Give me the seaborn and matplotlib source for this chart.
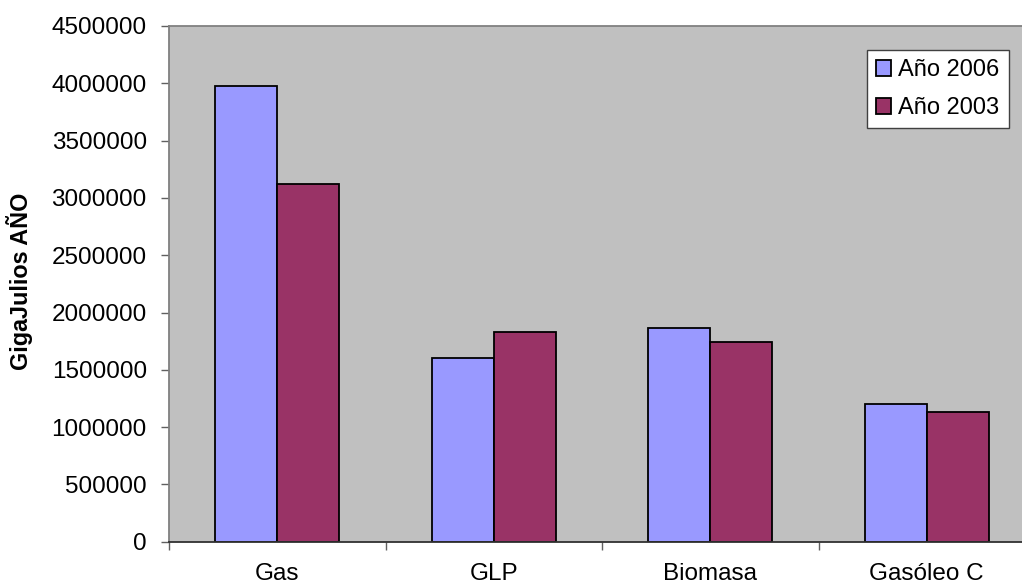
import matplotlib
matplotlib.use("Agg")
import matplotlib.pyplot as plt
import seaborn as sns
import pandas as pd

# Annual energy consumption by fuel type (GigaJulios)
fuels = ["Gas", "GLP", "Biomasa", "Gasóleo C"]
series_names = ["Año 2006", "Año 2003"]
values_2006 = [3975000, 1600000, 1865000, 1200000]
values_2003 = [3120000, 1830000, 1743000, 1132000]
y_ticks = [0, 500000, 1000000, 1500000, 2000000, 2500000, 3000000, 3500000, 4000000, 4500000]
palette = {"Año 2006": "#9999FF", "Año 2003": "#993366"}

df = pd.DataFrame({
    "fuel": fuels * 2,
    "year": [series_names[0]] * len(fuels) + [series_names[1]] * len(fuels),
    "gj": values_2006 + values_2003,
})

sns.set_theme(style="ticks")
plt.rcParams["font.family"] = ["Liberation Sans", "DejaVu Sans"]
plt.rcParams["text.color"] = "black"
FS = 17.5

fig = plt.figure(figsize=(10.22, 5.86), dpi=100)
ax = fig.add_axes([169 / 1022, 44.3 / 586, 866 / 1022, 515.7 / 586])
ax.set_facecolor("#C0C0C0")

sns.barplot(data=df, x="fuel", y="gj", hue="year", hue_order=series_names,
            order=fuels, palette=palette, width=0.573, gap=0, dodge=True,
            edgecolor="black", linewidth=1.3, saturation=1, ax=ax, legend=True)

ax.set_xlim(-0.5, 3.5)
ax.set_ylim(0, 4500000)

# y axis
ax.set_yticks(y_ticks, labels=[str(v) for v in y_ticks])
ax.tick_params(axis="y", which="major", direction="out", length=6, width=1.0,
               color="#606060", pad=10, labelsize=FS, labelcolor="black")

# x axis: labels at category centres, tick marks between categories
ax.set_xticks(range(len(fuels)), labels=fuels)
ax.tick_params(axis="x", which="major", length=0, pad=15.5, labelsize=FS, labelcolor="black")
ax.set_xticks([-0.5, 0.5, 1.5, 2.5], minor=True)
ax.tick_params(axis="x", which="minor", direction="out", length=6, width=1.0, color="#606060")

ax.set_xlabel("")
ax.set_ylabel("GigaJulios AÑO", fontsize=16.8, fontweight="bold", color="black")
ax.yaxis.set_label_coords((33 - 169) / 866, (541.7 - 281.5) / 515.7)

for side in ["left", "top", "right"]:
    ax.spines[side].set_color("#808080")
    ax.spines[side].set_linewidth(1.3)
ax.spines["bottom"].set_color("#303030")
ax.spines["bottom"].set_linewidth(1.3)

handles, labels = ax.get_legend_handles_labels()
leg = ax.legend(handles, labels, loc="upper left",
                bbox_to_anchor=(867 / 1022, 1 - 50 / 586), bbox_transform=fig.transFigure,
                borderaxespad=0, fontsize=17, frameon=True, fancybox=False,
                handlelength=0.65, handleheight=0.65, handletextpad=0.3,
                labelspacing=0.7, borderpad=0.38, labelcolor="black")
frame = leg.get_frame()
frame.set_facecolor("white")
frame.set_edgecolor("#404040")
frame.set_linewidth(1.0)
frame.set_alpha(1)
for h in leg.legend_handles:
    h.set_edgecolor("black")
    h.set_linewidth(1.3)

fig.savefig("out.png", dpi=100)
